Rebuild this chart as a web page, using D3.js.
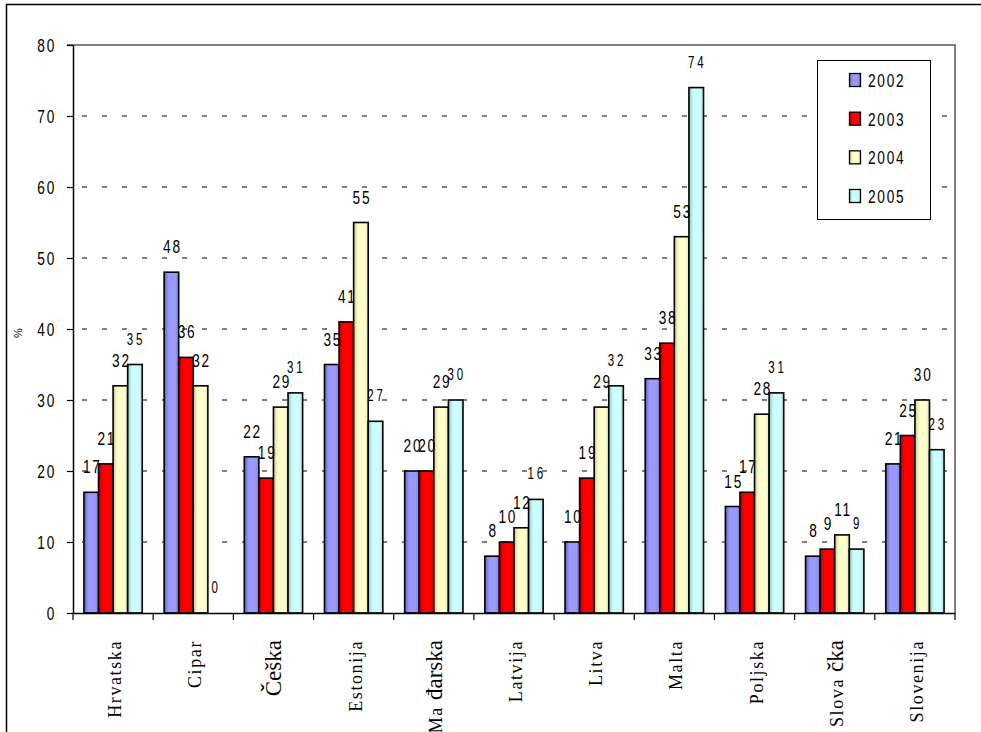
<!DOCTYPE html>
<html><head><meta charset="utf-8">
<script src="https://cdn.jsdelivr.net/npm/d3@7/dist/d3.min.js"></script>
<style>html,body{margin:0;padding:0;background:#fff;overflow:hidden}</style>
</head><body>
<svg id="chart" width="981" height="732"></svg>
<script>
const categories = ["Hrvatska","Cipar","Češka","Estonija","Mađarska","Latvija","Litva","Malta","Poljska","Slovačka","Slovenija"];
const years = ["2002","2003","2004","2005"];
const v2002 = [17,48,22,35,20,8,10,33,15,8,21];
const v2003 = [21,36,19,41,20,10,19,38,17,9,25];
const v2004 = [32,32,29,55,29,12,29,53,28,11,30];
const v2005 = [35,0,31,27,30,16,32,74,31,9,23];
const yTicks = [0,10,20,30,40,50,60,70,80];
const colors = ["#9999FF","#FF0000","#FFFFCC","#CCFFFF"];
const edgeColors = ["#6262b8","#b80000","#c8c896","#8ec2c2"];
const yTitle = "%";

const series = [v2002,v2003,v2004,v2005];
const svg = d3.select("#chart");
const pLeft = 73, pRight = 955, pTop = 45, pBottom = 613;

// outer frame
svg.append("rect").attr("x",6.5).attr("y",4.5).attr("width",1100).attr("height",900)
  .attr("fill","none").attr("stroke","#000").attr("stroke-width",1.5);

// gradients
const defs = svg.append("defs");
colors.forEach((c,i)=>{
  const g = defs.append("linearGradient").attr("id","g"+i).attr("x1","0").attr("x2","1").attr("y1","0").attr("y2","0");
  g.append("stop").attr("offset","0%").attr("stop-color",edgeColors[i]);
  g.append("stop").attr("offset","30%").attr("stop-color",c);
  g.append("stop").attr("offset","75%").attr("stop-color",c);
  g.append("stop").attr("offset","100%").attr("stop-color",d3.interpolateRgb(c,edgeColors[i])(0.5));
});

const y = d3.scaleLinear().domain([0,80]).range([pBottom,pTop]);
const x0 = d3.scaleBand().domain(categories).range([pLeft,pRight]).paddingInner(0).paddingOuter(0);
const x1 = d3.scaleBand().domain(years).range([0,x0.bandwidth()]).paddingInner(0).paddingOuter(0.75);

const FONT = "'Liberation Sans', Arial, sans-serif";
function condText(g, x, yy, txt, size, anchor, sx, ls){
  return g.append("text").attr("transform",`translate(${x},${yy}) scale(${sx},1)`)
    .attr("text-anchor",anchor).attr("font-family",FONT).attr("font-size",size)
    .attr("letter-spacing",ls).attr("fill","#000").text(txt);
}

// gridlines
svg.append("g").selectAll("line").data(yTicks.filter(t=>t>0 && t<80)).join("line")
  .attr("x1",pLeft).attr("x2",pRight).attr("y1",d=>y(d)).attr("y2",d=>y(d))
  .attr("stroke","#000").attr("stroke-width",1)
  .attr("stroke-dasharray","5,15").attr("stroke-dashoffset",11);

// plot area top/right border (gray)
svg.append("line").attr("x1",pLeft-6).attr("x2",pRight+1).attr("y1",y(80)).attr("y2",y(80))
  .attr("stroke","#808080").attr("stroke-width",2);
svg.append("line").attr("x1",pRight).attr("x2",pRight).attr("y1",pTop).attr("y2",pBottom)
  .attr("stroke","#808080").attr("stroke-width",2);

// bars
const groups = svg.append("g").selectAll("g").data(categories).join("g")
  .attr("transform",d=>`translate(${x0(d)},0)`);
groups.each(function(cat,ci){
  const g = d3.select(this);
  years.forEach((yr,si)=>{
    const v = series[si][ci];
    if(v>0){
      g.append("rect").attr("x",x1(yr)).attr("y",y(v)).attr("width",x1.bandwidth()).attr("height",y(0)-y(v))
        .attr("fill",`url(#g${si})`).attr("stroke","#000").attr("stroke-width",1.6);
    }
  });
});

// data labels
const labG = svg.append("g");
categories.forEach((cat,ci)=>{
  years.forEach((yr,si)=>{
    const v = series[si][ci];
    const cx = x0(cat)+x1(yr)+x1.bandwidth()/2;
    if(si===3){
      condText(labG, cx+1, y(v)-20, String(v), 16, "middle", 0.72, 4);
    } else {
      condText(labG, cx+1, y(v)-19, String(v), 19, "middle", 0.72, 2.4);
    }
  });
});

// y axis
const yAxis = svg.append("g").attr("transform",`translate(${pLeft},0)`)
  .call(d3.axisLeft(y).tickValues(yTicks).tickSize(6).tickSizeOuter(0).tickFormat(d3.format("d")));
yAxis.select(".domain").attr("stroke","#000").attr("stroke-width",1.5);
yAxis.selectAll(".tick line").attr("stroke","#000").attr("stroke-width",1.2);
yAxis.selectAll(".tick text").attr("x",0).attr("dy",null)
  .attr("transform","translate(-17,6.8) scale(0.72,1)")
  .attr("font-family",FONT).attr("font-size",19).attr("letter-spacing",2.4).attr("fill","#000")
  .attr("text-anchor","end");

// x axis
const xAxis = svg.append("g").attr("transform",`translate(0,${pBottom})`)
  .call(d3.axisBottom(x0).tickSize(0).tickSizeOuter(0).tickFormat(""));
xAxis.select(".domain").attr("stroke","#000").attr("stroke-width",1.5);
const bounds = categories.map(c=>x0(c)).concat([x0(categories[categories.length-1])+x0.bandwidth()]);
svg.append("g").selectAll("line").data(bounds).join("line")
  .attr("x1",d=>d).attr("x2",d=>d).attr("y1",pBottom).attr("y2",pBottom+7)
  .attr("stroke","#000").attr("stroke-width",1.2);

// category labels (rotated)
categories.forEach(cat=>{
  const cx = x0(cat)+x0.bandwidth()/2;
  const t = svg.append("text").attr("transform",`translate(${cx+8},640) rotate(-90)`)
    .attr("text-anchor","end").attr("font-family","'Liberation Serif', 'Times New Roman', serif").attr("fill","#000");
  const chars=[...cat];
  let idx = chars.findIndex(ch=>ch.charCodeAt(0)>127);
  if(idx<0) idx = chars.length;
  const a = chars.slice(0,idx).join(""), b = chars.slice(idx).join("");
  if(a) t.append("tspan").attr("font-size",18).attr("letter-spacing",1.6).text(a + (b?" ":""));
  if(b) t.append("tspan").attr("font-size",23).attr("letter-spacing",0).text(b);
});

// y title
svg.append("text").attr("transform","translate(22,333) rotate(-90)").attr("text-anchor","middle")
  .attr("font-family",FONT).attr("font-size",11).text(yTitle);

// legend
const lg = svg.append("g");
lg.append("rect").attr("x",817.5).attr("y",60.5).attr("width",113).attr("height",159)
  .attr("fill","#fff").attr("stroke","#000").attr("stroke-width",1);
const legY = d3.scalePoint().domain(years).range([87,203]);
years.forEach((yr,i)=>{
  lg.append("rect").attr("x",849.5).attr("y",legY(yr)-13.5).attr("width",11).attr("height",13)
    .attr("fill",`url(#g${i})`).attr("stroke","#000").attr("stroke-width",1.3);
  condText(lg, 868, legY(yr), yr, 19, "start", 0.72, 2.4);
});
</script>
</body></html>
